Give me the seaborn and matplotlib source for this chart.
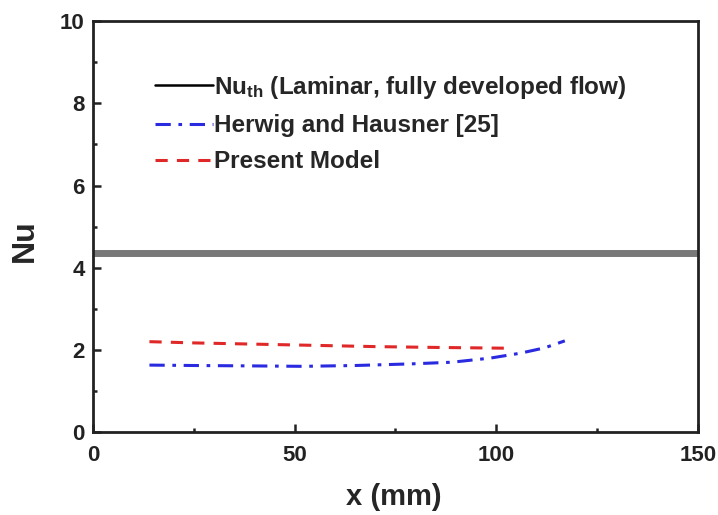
import matplotlib
matplotlib.use("Agg")
import matplotlib.pyplot as plt
import seaborn as sns
from matplotlib.lines import Line2D
from matplotlib.ticker import MultipleLocator

sns.set_theme(style="ticks")
plt.rcParams['font.family'] = ['Liberation Sans', 'DejaVu Sans']
plt.rcParams['mathtext.default'] = 'regular'

# Data
nu_th_x = [0, 150]
nu_th_y = [4.35, 4.35]

herwig_x = [14, 25, 40, 52, 65, 79, 89, 98.5, 106, 112, 117]
herwig_y = [1.63, 1.62, 1.61, 1.60, 1.62, 1.66, 1.70, 1.80, 1.92, 2.05, 2.22]

model_x = [14, 25, 40, 55, 70, 85, 103.5]
model_y = [2.20, 2.17, 2.14, 2.11, 2.08, 2.06, 2.04]

labels = ["Nu$_{th}$ (Laminar, fully developed flow)",
          "Herwig and Hausner [25]",
          "Present Model"]

blue = "#2a2ae0"
red = "#e02828"
dashdot = (0, (5, 2.5, 1.2, 2.5))
dashed = (0, (4, 3))

fig = plt.figure(figsize=(7.18, 5.15), dpi=100)
ax = fig.add_axes([0.1295, 0.161, 0.8425, 0.798])

sns.lineplot(x=nu_th_x, y=nu_th_y, ax=ax, color="#787878", linewidth=5)
sns.lineplot(x=herwig_x, y=herwig_y, ax=ax, color=blue, linewidth=2.2,
             linestyle=dashdot)
sns.lineplot(x=model_x, y=model_y, ax=ax, color=red, linewidth=2.2,
             linestyle=dashed)

ax.set_xlim(0, 150)
ax.set_ylim(0, 10)
ax.xaxis.set_major_locator(MultipleLocator(50))
ax.xaxis.set_minor_locator(MultipleLocator(25))
ax.yaxis.set_major_locator(MultipleLocator(2))
ax.yaxis.set_minor_locator(MultipleLocator(1))
ax.tick_params(which="both", direction="in", top=False, right=False,
               labelsize=16, width=1.8, colors="#222222")
ax.tick_params(axis="y", which="major", length=6, pad=6)
ax.tick_params(axis="x", which="major", length=6, pad=9)
ax.tick_params(which="minor", length=3)
for lab in ax.get_xticklabels() + ax.get_yticklabels():
    lab.set_fontweight("bold")
for s in ax.spines.values():
    s.set_linewidth(2)
    s.set_color("#222222")

ax.set_xlabel("x (mm)", fontsize=21, fontweight="bold")
ax.set_ylabel("Nu", fontsize=23, fontweight="bold")
ax.xaxis.set_label_coords(0.4975, -0.125)
ax.yaxis.set_label_coords(-0.088, 0.465)

handles = [Line2D([], [], color="black", linewidth=1.8),
           Line2D([], [], color=blue, linewidth=2.2, linestyle=dashdot),
           Line2D([], [], color=red, linewidth=2.2, linestyle=dashed)]
ax.legend(handles, labels, loc="upper left", bbox_to_anchor=(0.102, 0.872),
          frameon=False, handlelength=2.4, handletextpad=0.05, labelspacing=0.55,
          borderaxespad=0, borderpad=0,
          prop={"weight": "bold", "size": 17.5})

fig.savefig("out.png", dpi=100)
